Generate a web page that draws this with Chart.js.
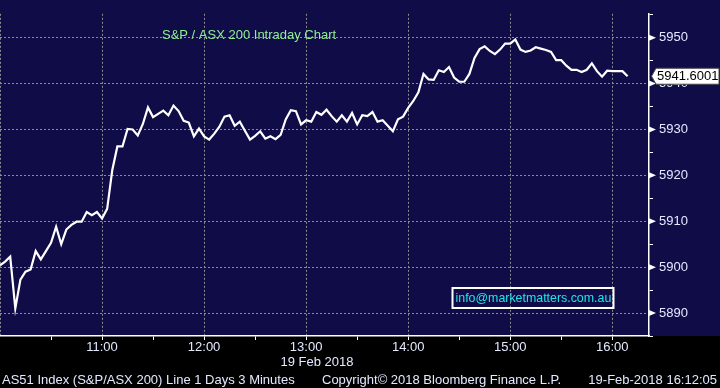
<!DOCTYPE html>
<html><head><meta charset="utf-8">
<script src="https://cdn.jsdelivr.net/npm/chart.js@4"></script>
<style>html,body{margin:0;padding:0;background:#000;overflow:hidden;}</style>
</head><body>
<canvas id="c" width="720" height="388"></canvas>
<script>
// ---- data ----
const sessionStartLabel = '10:00';
const stepMinutes = 3; // "Line 1 Days 3 Minutes"
const values = [
5900.4,5901.2,5902.3,5891.0,5897.3,5899.0,5899.5,5903.5,5901.7,5903.5,
5905.3,5908.8,5905.0,5908.2,5909.2,5909.9,5909.9,5912.0,5911.3,5912.0,
5910.6,5912.7,5921.1,5926.3,5926.3,5930.1,5930.0,5928.7,5931.2,5934.8,
5932.7,5933.4,5934.1,5933.1,5935.2,5934.0,5931.9,5931.5,5928.5,5930.2,
5928.5,5927.8,5929.1,5930.6,5932.8,5933.1,5930.8,5931.7,5929.7,5927.8,
5928.6,5929.6,5928.0,5928.5,5927.9,5928.8,5932.2,5934.2,5934.0,5931.1,
5932.0,5931.7,5933.8,5933.2,5934.3,5932.9,5931.7,5933.1,5931.7,5933.6,
5931.1,5933.1,5932.9,5933.8,5931.7,5932.0,5930.8,5929.6,5932.2,5932.8,
5934.7,5936.2,5938.1,5942.1,5940.9,5940.8,5942.9,5942.5,5943.6,5941.3,
5940.4,5940.4,5942.1,5945.6,5947.5,5948.1,5947.1,5946.4,5947.4,5948.7,
5948.7,5949.6,5947.4,5946.9,5947.2,5947.9,5947.6,5947.3,5946.9,5945.1,
5945.1,5943.9,5943.0,5943.0,5942.5,5943.0,5944.4,5942.7,5941.5,5942.8,
5942.7,5942.7,5942.7,5941.6001
];
const lastPriceLabel = '5941.6001';
const xHourMinutes = [60,120,180,240,300,360];
const xTickLabels = ['11:00','12:00','13:00','14:00','15:00','16:00'];
const xHalfHourMinutes = [0,30,90,150,210,270,330];
const yMajorValues = [5890,5900,5910,5920,5930,5940,5950];
const yTickLabels = ['5890','5900','5910','5920','5930','5940','5950'];
const yMinorValues = [5885,5895,5905,5915,5925,5935,5945,5955];
const chartTitle = 'S&P / ASX 200 Intraday Chart';
const dateLabel = '19 Feb 2018';
const footerLeft = 'AS51 Index (S&P/ASX 200) Line 1 Days 3 Minutes';
const footerMid = 'Copyright\u00A9 2018 Bloomberg Finance L.P.';
const footerRight = '19-Feb-2018 16:12:05';
const contactText = 'info@marketmatters.com.au';

// ---- build ----
const points = values.map((v,i)=>({x:i*stepMinutes, y:v}));
const NAVY = 'rgb(16,12,72)';
const GRID = '#8c8c8c';
const TXT = '#e4e9ff';
const FONT = 'Liberation Sans, Arial, sans-serif';

const decor = {
  id:'decor',
  beforeDraw(chart){
    const c = chart.ctx;
    c.save();
    c.fillStyle = '#000'; c.fillRect(0,0,chart.width,chart.height);
    c.fillStyle = NAVY; c.fillRect(0,0,chart.width,chart.chartArea.bottom);
    c.restore();
  },
  afterDraw(chart){
    const c = chart.ctx, ys = chart.scales.y, a = chart.chartArea;
    c.save();
    // major y ticks as arrows
    c.fillStyle = '#fff';
    yMajorValues.forEach(v=>{
      const y = ys.getPixelForValue(v);
      c.beginPath(); c.moveTo(a.right, y-3); c.lineTo(a.right+7, y); c.lineTo(a.right, y+3); c.closePath(); c.fill();
    });
    // title
    c.font = '13px ' + FONT; c.textBaseline = 'middle'; c.textAlign = 'left';
    c.fillStyle = '#8fef8f';
    c.fillText(chartTitle, 162, 35);
    // contact box
    c.strokeStyle = '#fff'; c.lineWidth = 2;
    c.strokeRect(452.5, 288, 161, 20);
    c.font = '12.4px ' + FONT;
    c.fillStyle = '#1ee6e6';
    c.fillText(contactText, 455.5, 298.5);
    // last price label
    c.font = '13px ' + FONT;
    const ly = ys.getPixelForValue(values[values.length-1]);
    c.beginPath();
    c.moveTo(a.right+2.5, ly); c.lineTo(a.right+7, ly-8); c.lineTo(719, ly-8);
    c.lineTo(719, ly+8); c.lineTo(a.right+7, ly+8); c.closePath();
    c.fillStyle = '#fff'; c.fill();
    c.strokeStyle = '#444'; c.lineWidth = 1; c.stroke();
    c.fillStyle = '#000';
    c.fillText(lastPriceLabel, 657, ly+0.5);
    // date and footer
    c.fillStyle = TXT;
    c.textAlign = 'center';
    c.fillText(dateLabel, 317, 362);
    c.textAlign = 'left';
    c.fillText(footerLeft, 2, 380);
    c.fillText(footerMid, 322, 380);
    c.textAlign = 'right';
    c.fillText(footerRight, 717, 380);
    c.restore();
  }
};

new Chart(document.getElementById('c'), {
  type:'line',
  data:{ datasets:[{ data:points, borderColor:'#ffffff', borderWidth:2.2, pointRadius:0, tension:0, fill:false }] },
  options:{
    responsive:false, animation:false, devicePixelRatio:1,
    layout:{ padding:0 },
    plugins:{ legend:{display:false}, tooltip:{enabled:false}, title:{display:false} },
    scales:{
      x:{
        type:'linear', position:'bottom', min:0, max:381.6,
        afterBuildTicks: s => { s.ticks = xHalfHourMinutes.concat(xHourMinutes).sort((p,q)=>p-q).map(v=>({value:v})); },
        afterFit: s => { s.height = 52; },
        ticks:{ autoSkip:false, maxRotation:0, color:TXT, font:{family:FONT, size:13}, padding:0,
          callback: v => { const k = xHourMinutes.indexOf(v); return k>=0 ? xTickLabels[k] : ''; } },
        grid:{ color: ctx => (ctx.tick && (xHourMinutes.includes(ctx.tick.value) || ctx.tick.value===0)) ? GRID : 'rgba(0,0,0,0)',
               tickColor: ctx => (ctx.tick && ctx.tick.value===0) ? 'rgba(0,0,0,0)' : '#ffffff', tickLength:4, lineWidth:1 },
        border:{ display:true, color:'#ffffff', width:1.5, dash:[2,2] }
      },
      y:{
        type:'linear', position:'right', min:5885, max:5955.2,
        afterBuildTicks: s => { s.ticks = yMinorValues.concat(yMajorValues).sort((p,q)=>p-q).map(v=>({value:v})); },
        afterFit: s => { s.width = 71; },
        ticks:{ autoSkip:false, color:TXT, font:{family:FONT, size:13}, padding:6,
          callback: v => { const k = yMajorValues.indexOf(v); return k>=0 ? yTickLabels[k] : ''; } },
        grid:{ color: ctx => (ctx.tick && yMajorValues.includes(ctx.tick.value)) ? GRID : 'rgba(0,0,0,0)',
               tickColor: ctx => (ctx.tick && yMajorValues.includes(ctx.tick.value)) ? 'rgba(0,0,0,0)' : '#ffffff', tickLength:4, lineWidth:1 },
        border:{ display:true, color:'#ffffff', width:1.5, dash:[2,2] }
      }
    }
  },
  plugins:[decor]
});
</script>
</body></html>
